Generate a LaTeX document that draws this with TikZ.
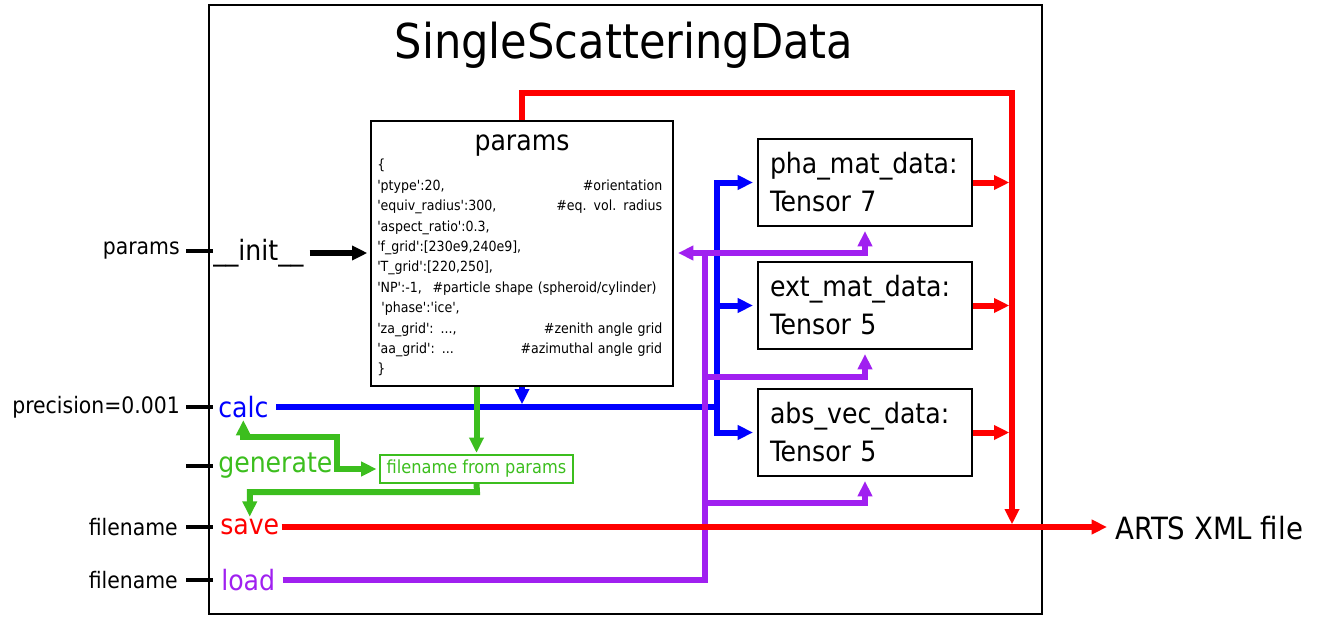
\documentclass[tikz,border=0pt]{standalone}
\usepackage{fontspec}
\newfontfamily\ssdfont{DejaVu Sans Condensed}
\usetikzlibrary{arrows.meta}
\usetikzlibrary{positioning}
\definecolor{ssdred}{RGB}{255,0,0}
\definecolor{ssdblue}{RGB}{0,0,255}
\definecolor{ssdgreen}{RGB}{60,190,30}
\definecolor{ssdpurple}{RGB}{160,32,240}

\begin{document}
\begin{tikzpicture}[x=0.75pt, y=-0.75pt,
    >={Triangle[length=11.5pt,width=10.5pt]},
    lbl/.style={font=\ssdfont\fontsize{17}{20}\selectfont, anchor=east, inner sep=1.5pt},
    method/.style={font=\ssdfont\fontsize{21}{25}\selectfont, anchor=west, inner sep=1.5pt},
    box/.style={draw, line width=1.5pt, inner sep=0pt},
    databox/.style={box, font=\ssdfont\fontsize{21}{28.5}\selectfont, align=left,
        text width=142.5pt, inner xsep=9pt, minimum width=160.5pt, minimum height=65.25pt},
    wire/.style={line width=4.5pt},
    tick/.style={line width=3pt}]
    \useasboundingbox (0,0) rectangle (1325,617);
    % class frame
    \node[box, minimum width=624.75pt, minimum height=456.75pt] (ssd) at (625.5,309.5) {};
    \node[font=\ssdfont\fontsize{36}{43}\selectfont] (title) at (624,45) {SingleScatteringData};
    % params dict
    \node[box, minimum width=226.5pt, minimum height=198.75pt] (params) at (522,253.5) {};
    \node[font=\ssdfont\fontsize{21}{25}\selectfont] (ptitle) at (522,146) {params};
    \node[anchor=north west, inner sep=0pt, text width=213.75pt, align=left,
        font=\ssdfont\fontsize{10.5}{15.3}\selectfont] (pdict) at (377,159) {%
        \{\\
        'ptype':20, \hfill \#orientation\\
        'equiv\_radius':300, \hfill \#eq. vol. radius\\
        'aspect\_ratio':0.3,\\
        'f\_grid':[230e9,240e9],\\
        'T\_grid':[220,250],\\
        \mbox{'NP':-1,\hspace{0.75em}\#particle shape (spheroid/cylinder)}\\
        \hspace*{0.3em}'phase':'ice',\\
        'za\_grid': ..., \hfill \#zenith angle grid\\
        'aa\_grid': ... \hfill \#azimuthal angle grid\\
        \}};
    % data tensors
    \node[databox] (pha) at (865,182.5) {pha\_mat\_data:\\Tensor 7};
    \node[databox] (ext) at (865,305.5) {ext\_mat\_data:\\Tensor 5};
    \node[databox] (abs) at (865,432.5) {abs\_vec\_data:\\Tensor 5};
    \node[box, draw=ssdgreen, line width=1.2pt, text=ssdgreen,
        font=\ssdfont\fontsize{13.5}{16}\selectfont,
        minimum width=144.75pt, minimum height=21pt] (fname) at (476.5,469) {filename from params};
    % methods
    \node[method] (init) at (211,253) {\_\_init\_\_};
    \node[method, text=ssdblue] (calc) at (216,407) {calc};
    \node[method, text=ssdgreen] (gen) at (216,466) {generate};
    \node[method, text=ssdred] (save) at (218,527) {save};
    \node[method, text=ssdpurple] (load) at (219,580) {load};
    % arguments
    \node[lbl] (aparams) at (182,251) {params};
    \node[lbl] (aprec) at (182,407) {precision=0.001};
    \node[lbl] (afile1) at (180,527) {filename};
    \node[lbl] (afile2) at (180,580) {filename};
    \foreach \y in {251,407,466,527,580}
        \draw[tick] (186,\y) -- (213,\y);
    \node[font=\ssdfont\fontsize{23}{27}\selectfont, anchor=west, inner sep=1.5pt] (arts) at (1113,528) {ARTS XML file};
    % junctions
    \coordinate (rbus) at (1012,93);
    \coordinate (bbus) at (717,407);
    \coordinate (pbus1) at (705,253);
    \coordinate (pbus2) at (705,377);
    \coordinate (pbus3) at (705,503);
    \coordinate (gbend) at (337,437);
    \coordinate (gdrop) at (477,492);
    % init
    \draw[wire, ->, shorten <=3pt, shorten >=2pt] (init.east) -- (init.east -| params.west);
    % calc
    \draw[wire, ssdblue, shorten <=4pt] (calc.east) -- (bbus);
    \foreach \b in {pha,ext,abs}
        \draw[wire, ssdblue, ->, shorten >=3pt] (bbus) |- (\b.west);
    \draw[wire, ssdblue, ->, shorten >=2pt] (params.south) -- (params.south |- bbus);
    % load
    \draw[wire, ssdpurple, shorten <=4pt] (load.east) -| (pbus1);
    \draw[wire, ssdpurple, ->, shorten >=3pt] (pbus1) -- (pbus1 -| params.east);
    \draw[wire, ssdpurple, ->, shorten >=3pt] (pbus1) -| (pha.south);
    \draw[wire, ssdpurple, ->, shorten >=3pt] (pbus2) -| (ext.south);
    \draw[wire, ssdpurple, ->, shorten >=3pt] (pbus3) -| (abs.south);
    % generate
    \draw[wire, ssdgreen, ->, shorten >=1pt] (fname.north |- params.south) -- (fname.north);
    \draw[wire, ssdgreen, <->, shorten >=2pt] (calc.south) |- (gbend) |- (fname.west);
    \draw[wire, ssdgreen, ->] (fname.south) -- (gdrop) -| (save.north);
    % save
    \draw[wire, ssdred, ->, shorten >=2pt] (params.north) |- (rbus) -- (rbus |- save.east);
    \foreach \b in {pha,ext,abs}
        \draw[wire, ssdred, ->, shorten >=2pt] (\b.east) -- (\b.east -| rbus);
    \draw[wire, ssdred, ->, shorten >=4.5pt] (save.east) -- (save.east -| arts.west);
\end{tikzpicture}
\end{document}
